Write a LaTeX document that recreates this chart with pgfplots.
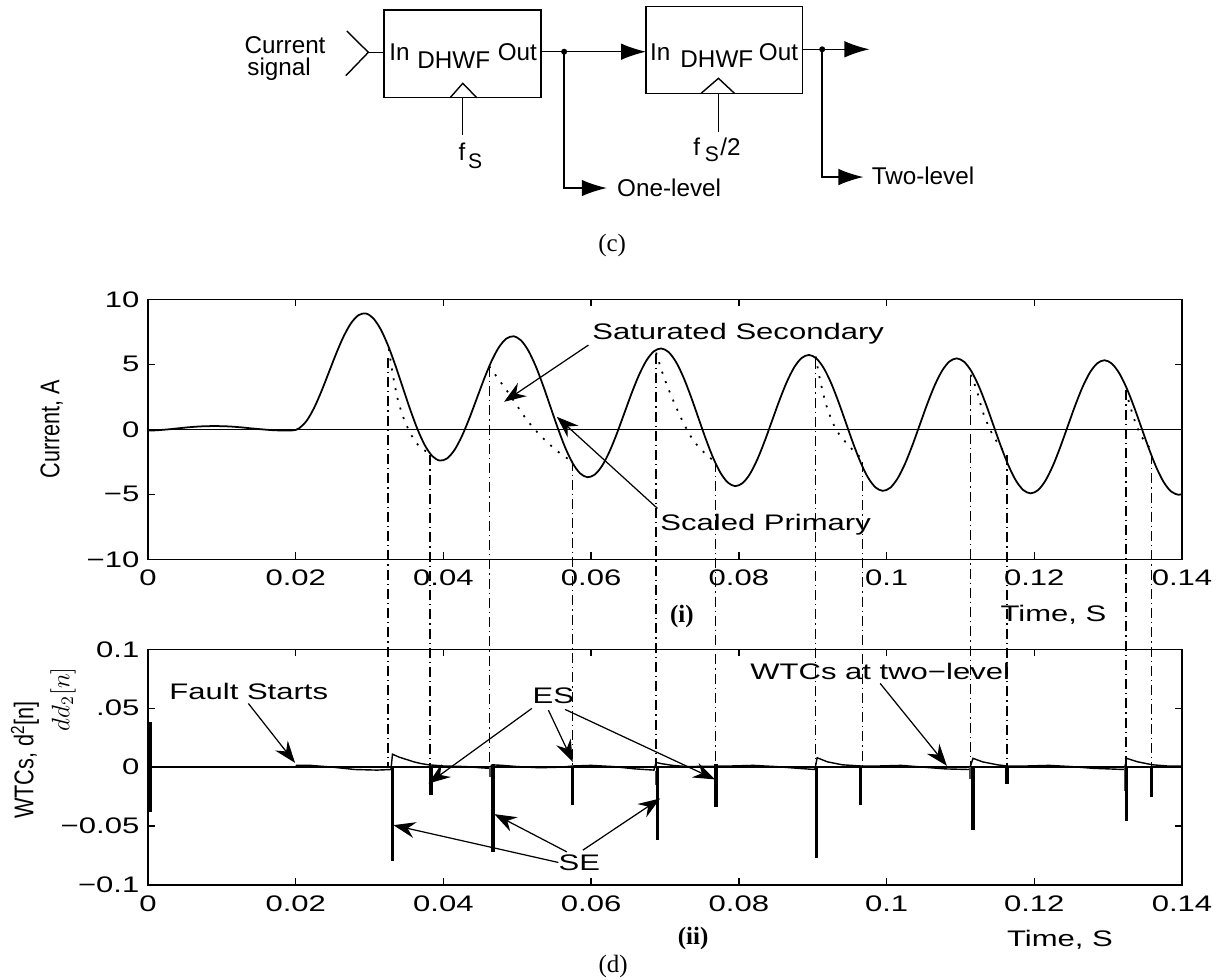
\documentclass[border=0pt]{standalone}
\usepackage{fontspec}
\setmainfont{Liberation Sans}
\newfontfamily\widefont[FakeStretch=1.38]{Liberation Sans}
\newfontfamily\narrowfont[FakeStretch=0.8]{Liberation Sans}
\newfontfamily\seriffont{Liberation Serif}
\usepackage{pgfplots}
\pgfplotsset{compat=1.18}
\usetikzlibrary{arrows.meta}

\newcommand\wf{\widefont\fontsize{12.8}{15}\selectfont}
\newcommand\blk{\fontsize{13.8}{16}\selectfont}
\newcommand\nf{\narrowfont\fontsize{15.4}{18}\selectfont}
\newcommand\capfont{\seriffont\fontsize{14.2}{17}\selectfont}

\pgfplotsset{
  panel/.style={
    scale only axis, width=20.68cm, anchor=south west,
    xmin=0, xmax=0.14, clip=false,
    xtick={0,0.02,0.04,0.06,0.08,0.1,0.12,0.14},
    xticklabels={0,0.02,0.04,0.06,0.08,0.1,0.12,0.14},
    scaled x ticks=false, scaled y ticks=false,
    tick align=inside, tick pos=both,
    major tick length=1.4mm,
    tick style={black, line width=0.8pt},
    axis line style={black, line width=0.9pt},
    xticklabel style={font=\wf, yshift=-0.85mm},
    yticklabel style={font=\wf, xshift=-0.5mm},
  }
}
\tikzset{
  dd/.style={line width=0.8pt, dash pattern=on 2mm off 0.8mm on 0.25mm off 0.8mm},
  ann/.style={line width=0.7pt, -{Stealth[length=4.4mm, width=3.2mm, inset=1.5mm]}},
  barrow/.style={line width=0.8pt, -{Latex[length=5mm, width=3.3mm]}},
  lbl/.style={inner sep=0pt, anchor=base, font=\wf},
}

\begin{document}
\begin{tikzpicture}
\useasboundingbox (0,0) rectangle (24.44cm,-19.6cm);

% ---- block diagram (pixel units) ----
\begin{scope}[x=0.02cm, y=-0.02cm, line width=0.8pt, font=\blk]
  \node[inner sep=0pt, anchor=base] at (285,53.3) {Current};
  \node[inner sep=0pt, anchor=base] at (279,75) {signal};
  \draw (346.7,31) -- (368.3,52.3) -- (345.7,75.7);
  \draw (368.3,52.3) -- (384,52.3);
  \draw (384,10) rectangle (541,97.7);
  \node[inner sep=0pt, anchor=base] at (399.5,60.4) {In};
  \node[inner sep=0pt, anchor=base] at (453.7,68.7) {DHWF};
  \node[inner sep=0pt, anchor=base] at (517.2,60.4) {Out};
  \draw (450,97.7) -- (462.7,83.3) -- (476.7,97.7);
  \draw (462.7,97.7) -- (462.7,135);
  \node[inner sep=0pt, anchor=base] at (462,160) {f};
  \node[inner sep=0pt, anchor=base, font=\fontsize{12}{14}\selectfont] at (475,168.3) {S};
  \draw (541,51.7) -- (564,51.7);
  \fill (564,51.7) circle (0.6mm);
  \draw[barrow] (564,51.7) -- (646,51.7);
  \draw[barrow] (564,51.7) -- (564,188) -- (606.7,188);
  \node[inner sep=0pt, anchor=base] at (669,196.7) {One-level};

  \draw (646,6.7) rectangle (802.3,93.3);
  \node[inner sep=0pt, anchor=base] at (660,60.4) {In};
  \node[inner sep=0pt, anchor=base] at (716.7,67) {DHWF};
  \node[inner sep=0pt, anchor=base] at (778.3,60.4) {Out};
  \draw (701,93.3) -- (718.3,78.3) -- (734.3,93.3);
  \draw (718.3,93.3) -- (718.3,131.7);
  \node[inner sep=0pt, anchor=base] at (696.7,155) {f};
  \node[inner sep=0pt, anchor=base, font=\fontsize{12}{14}\selectfont] at (711.7,161.7) {S};
  \node[inner sep=0pt, anchor=base west] at (719.5,155) {/2};
  \draw (802.3,49.3) -- (822,49.3);
  \fill (822,49.3) circle (0.6mm);
  \draw[barrow] (822,49.3) -- (869.3,49.3);
  \draw[barrow] (822,49.3) -- (822,177) -- (863.3,177);
  \node[inner sep=0pt, anchor=base] at (922.8,184.3) {Two-level};

  \node[font=\capfont] at (612,245) {(c)};
\end{scope}

% ---- top panel: currents ----
\begin{axis}[panel, at={(2.96cm,-11.186cm)}, height=5.2cm,
  ymin=-10, ymax=10, ytick={-10,-5,0,5,10},
  yticklabels={−10,−5,0,5,10}]
\addplot[line width=0.8pt] coordinates {(0,0) (0.14,0)};
% scaled primary
\addplot[line width=1pt, smooth] coordinates {
(0,-0.10) (0.001,-0.08) (0.002,-0.04) (0.003,0.01) (0.004,0.07) (0.005,0.13)
(0.006,0.18) (0.007,0.22) (0.008,0.24) (0.009,0.25) (0.010,0.24) (0.011,0.22)
(0.012,0.18) (0.013,0.13) (0.014,0.07) (0.015,0.02) (0.016,-0.03) (0.017,-0.07)
(0.018,-0.09) (0.019,-0.10) (0.020,-0.05)
(0.0205,0.093) (0.0215,0.670) (0.0225,1.660) (0.0235,2.951) (0.0245,4.401)
(0.0255,5.856) (0.0265,7.160) (0.0275,8.171) (0.0285,8.779) (0.0295,8.911)
(0.0305,8.542) (0.0315,7.698) (0.0325,6.449) (0.0335,4.907) (0.0345,3.213)
(0.0355,1.523) (0.0365,-0.009) (0.0375,-1.242) (0.0385,-2.064) (0.0395,-2.404)
(0.0405,-2.237) (0.0415,-1.587) (0.0425,-0.528) (0.0435,0.830) (0.0445,2.346)
(0.0455,3.865) (0.0465,5.230) (0.0475,6.301) (0.0485,6.967) (0.0495,7.155)
(0.0505,6.841) (0.0515,6.049) (0.0525,4.851) (0.0535,3.359) (0.0545,1.713)
(0.0555,0.069) (0.0565,-1.418) (0.0575,-2.607) (0.0585,-3.388) (0.0595,-3.686)
(0.0605,-3.480) (0.0615,-2.792) (0.0625,-1.695) (0.0635,-0.300) (0.0645,1.251)
(0.0655,2.803) (0.0665,4.201) (0.0675,5.304) (0.0685,6.001) (0.0695,6.219)
(0.0705,5.934) (0.0715,5.170) (0.0725,4.000) (0.0735,2.533) (0.0745,0.913)
(0.0755,-0.706) (0.0765,-2.169) (0.0775,-3.335) (0.0785,-4.093) (0.0795,-4.370)
(0.0805,-4.142) (0.0815,-3.433) (0.0825,-2.317) (0.0835,-0.903) (0.0845,0.667)
(0.0855,2.237) (0.0865,3.653) (0.0875,4.773) (0.0885,5.486) (0.0895,5.720)
(0.0905,5.450) (0.0915,4.701) (0.0925,3.545) (0.0935,2.093) (0.0945,0.487)
(0.0955,-1.119) (0.0965,-2.570) (0.0975,-3.723) (0.0985,-4.469) (0.0995,-4.734)
(0.1005,-4.495) (0.1015,-3.775) (0.1025,-2.649) (0.1035,-1.224) (0.1045,0.355)
(0.1055,1.935) (0.1065,3.361) (0.1075,4.489) (0.1085,5.211) (0.1095,5.454)
(0.1105,5.192) (0.1115,4.451) (0.1125,3.303) (0.1135,1.859) (0.1145,0.259)
(0.1155,-1.340) (0.1165,-2.783) (0.1175,-3.930) (0.1185,-4.669) (0.1195,-4.928)
(0.1205,-4.683) (0.1215,-3.958) (0.1225,-2.825) (0.1235,-1.395) (0.1245,0.190)
(0.1255,1.775) (0.1265,3.205) (0.1275,4.339) (0.1285,5.065) (0.1295,5.312)
(0.1305,5.055) (0.1315,4.318) (0.1325,3.175) (0.1335,1.734) (0.1345,0.139)
(0.1355,-1.457) (0.1365,-2.897) (0.1375,-4.040) (0.1385,-4.776) (0.1395,-5.032)
(0.14,-4.98)
};
% saturated secondary (where it leaves the primary)
\addplot[line width=1pt, smooth, unbounded coords=jump,
  dash pattern=on 0.4mm off 1.6mm] coordinates {
(0.0326,6.2) (0.0332,4.05) (0.0339,2.12) (0.0348,0.58) (0.0359,-0.69) (0.0370,-1.46) (0.0382,-1.85) (0.0382,nan)
(0.0462,4.85) (0.0472,4.05) (0.0490,2.64) (0.0513,0.72) (0.0535,-0.69) (0.0558,-1.85) (0.0575,-2.5) (0.0575,nan)
(0.0688,5.9) (0.0696,4.43) (0.0707,2.77) (0.0723,0.72) (0.0738,-0.82) (0.0754,-1.85) (0.0768,-2.5) (0.0768,nan)
(0.0904,5.6) (0.0910,3.79) (0.0919,1.74) (0.0932,-0.05) (0.0950,-1.34) (0.0967,-2.3) (0.0967,nan)
(0.1114,4.2) (0.1122,3.02) (0.1131,1.23) (0.1145,-0.57) (0.1163,-2.0) (0.1163,nan)
(0.1324,3.0) (0.1330,1.74) (0.1339,0.2) (0.1348,-0.82) (0.1359,-1.6)
};
% SE / ES markers running down to the coefficient panel
\draw[dd] (axis cs:0.0325,5.5) -- (axis cs:0.0325,-26);
\draw[dd] (axis cs:0.0382,-2.0) -- (axis cs:0.0382,-26);
\draw[dd] (axis cs:0.0462,4.8) -- (axis cs:0.0462,-26);
\draw[dd] (axis cs:0.0575,-2.4) -- (axis cs:0.0575,-26);
\draw[dd] (axis cs:0.0688,5.8) -- (axis cs:0.0688,-26);
\draw[dd] (axis cs:0.0768,-2.5) -- (axis cs:0.0768,-26);
\draw[dd] (axis cs:0.0904,5.4) -- (axis cs:0.0904,-26);
\draw[dd] (axis cs:0.0967,-2.5) -- (axis cs:0.0967,-26);
\draw[dd] (axis cs:0.1114,4.1) -- (axis cs:0.1114,-26);
\draw[dd] (axis cs:0.1163,-2.0) -- (axis cs:0.1163,-26);
\draw[dd] (axis cs:0.1324,3.0) -- (axis cs:0.1324,-26);
\draw[dd] (axis cs:0.1359,-1.9) -- (axis cs:0.1359,-26);
\end{axis}

% ---- bottom panel: wavelet coefficients ----
\begin{axis}[panel, at={(2.96cm,-17.7cm)}, height=4.714cm,
  ymin=-0.1, ymax=0.1, ytick={-0.1,-0.05,0,0.05,0.1},
  yticklabels={−0.1,−0.05,0,.05,0.1}]
\addplot[line width=0.8pt] coordinates {(0,0) (0.14,0)};
\addplot[line width=0.8pt] coordinates {
(0,0) (0.0200,0) (0.0201,0.0015) (0.022,0.0015) (0.025,0.0) (0.028,-0.002)
(0.031,-0.0025) (0.0329,-0.002) (0.0331,0.011) (0.034,0.0085) (0.035,0.0065)
(0.036,0.0045) (0.037,0.003) (0.038,0.002) (0.040,0.001) (0.043,0.0005)
(0.045,-0.0005) (0.0462,-0.001) (0.0466,0.002) (0.048,0.0015) (0.050,0.0005)
(0.053,-0.0005) (0.056,0.0) (0.0575,0.001) (0.060,0.0015) (0.063,0.0005)
(0.066,-0.0015) (0.0685,-0.0025) (0.0688,0.004) (0.0695,0.003) (0.071,0.0015)
(0.073,0.0005) (0.0769,0.0008) (0.079,0.001) (0.082,0.0015) (0.085,0.0005)
(0.088,-0.001) (0.0903,-0.002) (0.0906,0.008) (0.092,0.0045) (0.094,0.002)
(0.0965,0.001) (0.099,0.001) (0.102,0.0015) (0.105,0.0) (0.108,-0.0015)
(0.1112,-0.002) (0.1117,0.0075) (0.113,0.0045) (0.115,0.002) (0.1163,0.001)
(0.119,0.001) (0.122,0.0015) (0.125,0.0005) (0.128,-0.001) (0.1322,-0.002)
(0.1325,0.0075) (0.134,0.0045) (0.136,0.002) (0.138,0.001) (0.14,0.001)
};
% thin side spikes
\addplot[line width=0.8pt, black!70, unbounded coords=jump] coordinates {
(0.0463,0) (0.0463,-0.008) (0.0463,nan)
(0.0687,-0.003) (0.0687,-0.015) (0.0687,nan)
(0.1113,0) (0.1113,-0.010) (0.1113,nan)
(0.1322,0) (0.1322,-0.020)
};
% main spikes
\addplot[line width=2pt, unbounded coords=jump] coordinates {
(0.0003,0.038) (0.0003,-0.038) (0.0003,nan)
(0.0331,0.001) (0.0331,-0.080) (0.0331,nan)
(0.0383,0.001) (0.0383,-0.024) (0.0383,nan)
(0.0467,0.002) (0.0467,-0.072) (0.0467,nan)
(0.0575,0.001) (0.0575,-0.032) (0.0575,nan)
(0.0690,0.001) (0.0690,-0.062) (0.0690,nan)
(0.0769,0.003) (0.0769,-0.034) (0.0769,nan)
(0.0905,0.001) (0.0905,-0.077) (0.0905,nan)
(0.0965,0.001) (0.0965,-0.032) (0.0965,nan)
(0.1117,0.001) (0.1117,-0.053) (0.1117,nan)
(0.1163,0.001) (0.1163,-0.014) (0.1163,nan)
(0.1325,0.001) (0.1325,-0.046) (0.1325,nan)
(0.1359,0.001) (0.1359,-0.025)
};
\end{axis}

% ---- labels and annotations (pixel units) ----
\begin{scope}[x=0.02cm, y=-0.02cm]
  \node[rotate=90, inner sep=0pt, font=\nf] at (51.7,429) {Current, A};
  \node[rotate=90, inner sep=0pt, font=\nf] at (25,760) {WTCs, d\textsuperscript{2}[n]};
  \node[rotate=90, inner sep=0pt] at (63,699) {\fontsize{13.7}{16}\selectfont$dd_2[n]$};

  \node[lbl] at (738,339) {Saturated Secondary};
  \draw[ann] (588.3,345) -- (504,401.7);
  \node[lbl] at (765.5,530.7) {Scaled Primary};
  \draw[ann] (657.3,508.3) -- (556.7,416.7);
  \node[lbl] at (1053.3,621.7) {Time, S};
  \node[inner sep=0pt, font=\capfont\bfseries] at (681.7,616.7) {(i)};

  \node[lbl] at (248.7,699) {Fault Starts};
  \draw[ann] (248.3,703.3) -- (295,762.7);
  \node[lbl] at (553.3,703.3) {ES};
  \draw[ann] (531.7,708.3) -- (428.3,783.3);
  \draw[ann] (548.3,710) -- (572.7,761.7);
  \draw[ann] (565,709.3) -- (715,779.3);
  \node[lbl] at (579.2,870.7) {SE};
  \draw[ann] (558.3,862.3) -- (393.3,825);
  \draw[ann] (566.7,851.7) -- (494.3,814);
  \draw[ann] (582.7,850) -- (660,798.3);
  \node[lbl] at (880,679.3) {WTCs at two−level};
  \draw[ann] (880,683.3) -- (946.7,765.7);
  \node[lbl] at (1059.8,946.7) {Time, S};
  \node[inner sep=0pt, font=\capfont\bfseries] at (693,938) {(ii)};
  \node[inner sep=0pt, font=\capfont] at (613,966.7) {(d)};
\end{scope}
\end{tikzpicture}
\end{document}
